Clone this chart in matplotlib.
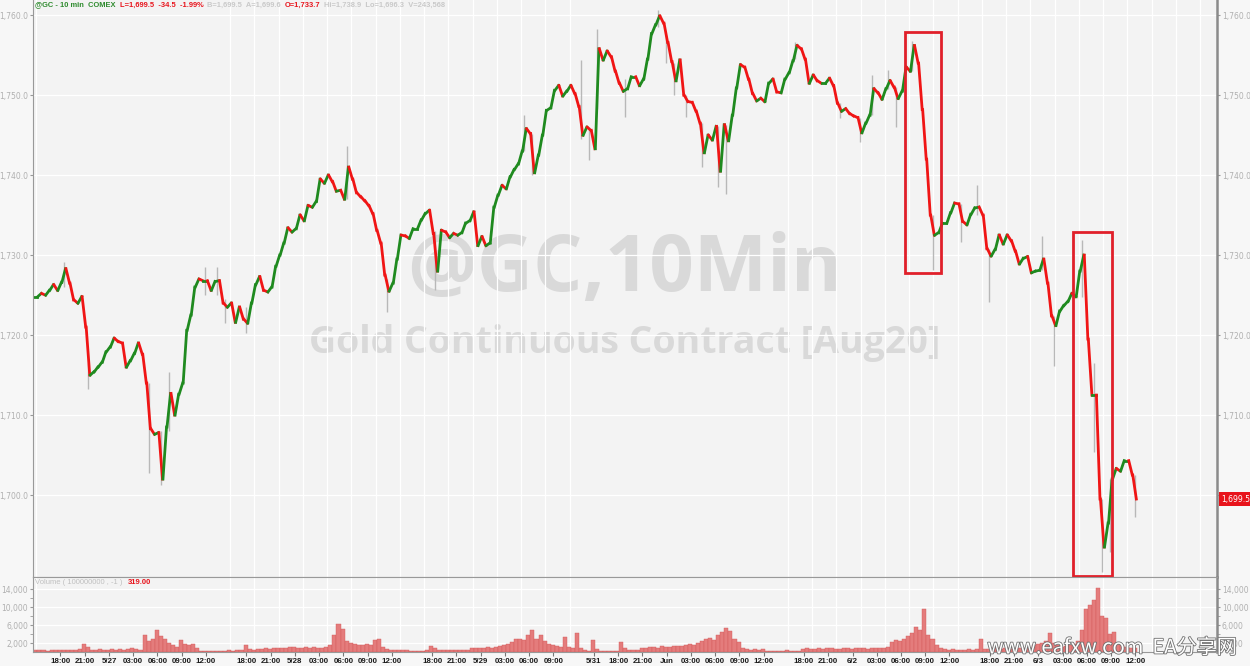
import numpy as np
import matplotlib.pyplot as plt
from matplotlib.patches import Rectangle
from matplotlib.collections import LineCollection
from matplotlib.ticker import FuncFormatter, FixedLocator
import matplotlib.patheffects as pe

# half-hour closes of @GC (10 min chart)
closes = [
    1724.8, 1725.2, 1725.0, 1725.6, 1726.3, 1725.6, 1726.6, 1728.3, 1726.5, 1724.4,
    1724.0, 1724.8, 1721.0, 1715.0, 1715.4, 1716.0, 1716.6, 1717.9, 1718.5, 1719.6,
    1719.2, 1719.0, 1716.0, 1716.8, 1717.7, 1719.0, 1717.6, 1714.0, 1708.3, 1707.6,
    1707.8, 1702.0, 1708.5, 1712.7, 1710.0, 1712.6, 1714.0, 1720.6, 1722.5, 1726.0,
    1727.0, 1726.8, 1726.8, 1725.6, 1726.7, 1726.8, 1724.0, 1723.5, 1724.0, 1721.6,
    1723.5, 1722.0, 1721.5, 1724.0, 1726.3, 1727.3, 1725.6, 1725.4, 1726.0, 1728.6,
    1730.0, 1731.5, 1733.4, 1732.9, 1733.3, 1735.0, 1734.3, 1736.2, 1736.0, 1736.7,
    1739.5, 1739.0, 1740.0, 1739.2, 1738.0, 1738.1, 1737.0, 1741.0, 1739.5, 1737.8,
    1737.3, 1736.8, 1736.2, 1735.2, 1733.1, 1731.5, 1727.5, 1725.5, 1726.5, 1729.5,
    1732.5, 1732.4, 1732.1, 1733.3, 1733.3, 1734.4, 1735.2, 1735.6, 1732.7, 1728.0,
    1733.1, 1732.9, 1732.2, 1732.7, 1732.5, 1732.8, 1734.0, 1734.3, 1735.4, 1731.2,
    1732.3, 1731.2, 1731.5, 1736.0, 1737.5, 1738.7, 1738.3, 1739.8, 1740.7, 1741.4,
    1743.0, 1745.8, 1745.2, 1740.3, 1742.5, 1745.0, 1748.1, 1748.4, 1750.6, 1751.2,
    1749.9, 1750.5, 1751.2, 1750.2, 1748.6, 1745.0, 1746.0, 1745.6, 1743.3, 1755.8,
    1754.4, 1755.5, 1754.8, 1753.0, 1751.5, 1750.5, 1750.8, 1752.3, 1752.3, 1751.2,
    1752.0, 1754.5, 1757.7, 1758.8, 1759.9, 1759.0, 1756.6, 1754.2, 1751.8, 1754.4,
    1750.0, 1749.2, 1749.1, 1748.0, 1746.5, 1742.8, 1745.0, 1744.4, 1746.1, 1740.5,
    1746.3, 1744.3, 1747.5, 1750.9, 1753.8, 1753.5, 1752.0, 1750.2, 1749.3, 1749.6,
    1749.2, 1751.5, 1752.0, 1750.4, 1750.3, 1752.0, 1752.8, 1754.3, 1756.2, 1755.8,
    1754.5, 1751.5, 1752.5, 1751.8, 1751.5, 1751.5, 1752.1, 1751.2, 1749.0, 1748.0,
    1748.3, 1747.7, 1747.4, 1747.2, 1745.3, 1746.5, 1747.5, 1750.8, 1750.3, 1749.5,
    1750.8, 1751.8, 1751.0, 1749.6, 1750.5, 1753.5, 1753.0, 1756.2, 1754.0, 1748.2,
    1742.0, 1735.0, 1732.5, 1732.8, 1734.0, 1734.0, 1735.3, 1736.5, 1736.4, 1734.2,
    1733.8, 1735.1, 1735.9, 1736.0, 1735.0, 1730.8, 1729.9, 1730.7, 1732.5, 1731.4,
    1732.5, 1731.8, 1730.5, 1728.9, 1729.6, 1729.8, 1727.8, 1728.0, 1728.1, 1729.5,
    1726.5, 1722.4, 1721.2, 1723.0, 1723.7, 1724.2, 1725.2, 1724.8, 1728.0, 1730.0,
    1719.5, 1712.5, 1712.5, 1699.5, 1693.5, 1696.5, 1702.0, 1703.3, 1703.0, 1704.3,
    1704.3, 1702.5, 1699.5,
]

volumes = [
    400, 350, 450, 300, 500, 400, 350, 450, 400, 500,
    450, 600, 1800, 1200, 500, 400, 600, 500, 450, 700,
    500, 600, 500, 700, 800, 600, 500, 3800, 2500, 2800,
    4800, 3500, 3000, 2000, 1500, 1200, 2600, 1800, 1500, 1800,
    800, 300, 250, 300, 200, 300, 250, 300, 350, 300,
    400, 500, 1500, 600, 500, 700, 600, 800, 700, 900,
    800, 1000, 900, 1200, 1100, 800, 1000, 1200, 900, 1100,
    1000, 1000, 1200, 1500, 3800, 6300, 5200, 2500, 2000, 1800,
    1500, 1600, 1800, 1500, 2600, 3000, 1200, 600, 500, 500,
    400, 500, 400, 200, 200, 250, 200, 500, 1300, 1000,
    400, 350, 400, 450, 400, 350, 400, 500, 800, 1000,
    1000, 900, 1200, 1000, 1200, 1300, 1500, 1800, 2200, 2800,
    3000, 2600, 3800, 5000, 3000, 3800, 2500, 1800, 1500, 1300,
    1200, 3300, 1200, 1000, 4300, 800, 400, 300, 2600, 600,
    200, 200, 250, 200, 200, 2300, 800, 400, 400, 500,
    900, 1000, 1100, 1200, 1000, 1300, 1100, 1200, 1300, 1400,
    1300, 1500, 1700, 1600, 2000, 2400, 2800, 3200, 2600, 3800,
    4500, 5400, 4600, 3000, 2200, 1000, 600, 500, 600, 500,
    600, 300, 300, 250, 300, 300, 350, 300, 250, 300,
    700, 800, 700, 600, 800, 700, 900, 800, 700, 600,
    800, 900, 700, 800, 900, 800, 700, 1000, 900, 800,
    900, 1200, 2200, 2600, 2500, 3000, 3500, 4200, 5500, 4800,
    9500, 3800, 2800, 1500, 800, 600, 500, 600, 500, 400,
    500, 600, 500, 700, 2800, 600, 700, 800, 900, 700,
    800, 900, 700, 800, 900, 1000, 1000, 1500, 1800, 2000,
    2500, 4200, 2000, 1500, 1200, 1300, 1500, 1800, 2500, 5000,
    9500, 10500, 11500, 14300, 8000, 7500, 4000, 4500, 1800, 1500,
    1200, 1000, 800,
]

# notable wicks: bar index -> (low, high)
wicks = {
    7: (1726.0, 1729.2), 13: (1713.3, 1716.5), 28: (1702.7, 1714.0),
    31: (1701.3, 1708.0), 33: (1708.0, 1715.4), 42: (1725.0, 1728.5),
    45: (1725.0, 1728.5), 47: (1721.5, 1724.5), 52: (1720.2, 1723.5),
    77: (1737.0, 1743.7), 87: (1722.9, 1727.0), 99: (1725.6, 1733.0),
    121: (1743.0, 1747.5), 123: (1740.0, 1745.2), 135: (1744.5, 1754.4),
    137: (1741.9, 1746.0), 139: (1748.3, 1758.3), 146: (1747.3, 1752.0),
    154: (1758.5, 1760.6), 156: (1754.0, 1757.5), 158: (1750.0, 1754.0),
    161: (1747.3, 1750.0), 165: (1741.0, 1746.5), 169: (1738.5, 1746.1),
    171: (1737.7, 1746.3), 188: (1754.5, 1756.7), 199: (1747.1, 1749.0),
    204: (1744.2, 1747.2), 207: (1747.5, 1752.5), 211: (1750.8, 1753.1),
    213: (1746.0, 1751.0), 217: (1753.0, 1756.8), 222: (1728.1, 1735.0),
    229: (1731.7, 1736.4), 233: (1735.0, 1738.8), 236: (1724.1, 1730.8),
    249: (1728.1, 1732.4), 252: (1716.1, 1722.4), 259: (1724.8, 1731.9),
    262: (1705.4, 1716.5), 264: (1690.4, 1699.5), 266: (1692.9, 1702.0),
    272: (1697.3, 1702.5),
}

# time axis labels, hours after the first 18:00 (trading hours only)
tick_labels = ['18:00', '21:00', '5/27', '03:00', '06:00', '09:00', '12:00',
               '18:00', '21:00', '5/28', '03:00', '06:00', '09:00', '12:00',
               '18:00', '21:00', '5/29', '03:00', '06:00', '09:00', '5/31',
               '18:00', '21:00', 'Jun', '03:00', '06:00', '09:00', '12:00',
               '18:00', '21:00', '6/2', '03:00', '06:00', '09:00', '12:00',
               '18:00', '21:00', '6/3', '03:00', '06:00', '09:00', '12:00']
tick_hours = [0, 3, 6, 9, 12, 15, 18,
              23, 26, 29, 32, 35, 38, 41,
              46, 49, 52, 55, 58, 61, 66,
              69, 72, 75, 78, 81, 84, 87,
              92, 95, 98, 101, 104, 107, 110,
              115, 118, 121, 124, 127, 130, 133]
first_1800 = 3.1  # hours from the first bar to the first 18:00

# highlighted sell-offs: (start hour, end hour, low, high)
boxes = [(107.65, 112.1, 1727.75, 1757.9), (128.4, 133.2, 1689.9, 1732.9)]

last_price = 1699.5
header = [('@GC - 10 min  COMEX', '#2e8b2e'),
          ('L=1,699.5  -34.5  -1.99%', '#e8141c'),
          ('B=1,699.5  A=1,699.6', '#c9c9c9'),
          ('O=1,733.7', '#e8141c'),
          ('Hi=1,738.9  Lo=1,696.3  V=243,568', '#c9c9c9')]

GREEN = '#1f8a1f'
RED = '#f01515'
W, H = 1250, 666

closes = np.array(closes)
opens = np.r_[closes[0], closes[:-1]]
x = np.arange(len(closes)) * 0.5

fig = plt.figure(figsize=(W / 100, H / 100), dpi=100, facecolor='#f7f7f7')
ax = fig.add_axes([33 / W, 89 / H, 1184 / W, 577 / H])
axv = fig.add_axes([33 / W, 14 / H, 1184 / W, 75 / H], sharex=ax)

for a in (ax, axv):
    a.set_facecolor('#f3f3f3')
    a.spines['top'].set_visible(False)
    a.spines['left'].set_color('#999999')
    a.spines['right'].set_color('#8a8a8a')
    a.spines['right'].set_linewidth(1.8)
    a.spines['bottom'].set_color('#999999')
    a.set_axisbelow(True)
    a.grid(True, which='minor', axis='x', color='white', lw=0.9)
    a.tick_params(axis='y', which='both', left=True, right=True, labelleft=True,
                  labelright=True, direction='out', length=2.5, pad=1,
                  labelsize=5.5, labelcolor='#b0b0b0', color='#999999')
axv.spines['top'].set_visible(True)
axv.spines['top'].set_color('#999999')

# candles, drawn as short strokes from open to close so the series reads as one line
for i, (wl, wh) in wicks.items():
    ax.vlines(x[i], wl, wh, color='#b8b8b8', lw=1.0, zorder=1)
segs = [[(xi - 0.22, o), (xi + 0.22, c)] for xi, o, c in zip(x, opens, closes)]
colors = [GREEN if c >= o else RED for o, c in zip(opens, closes)]
ax.add_collection(LineCollection(segs, colors=colors, linewidths=2.0,
                                 capstyle='projecting', zorder=2))

ax.set_ylim(1689.75, 1761.9)
ax.set_xlim(-0.3, 146.2)
ax.yaxis.set_major_locator(FixedLocator(np.arange(1700, 1761, 10)))
ax.yaxis.set_major_formatter(FuncFormatter(lambda v, p: f'{v:,.1f}'))
ax.grid(True, which='major', axis='y', color='white', lw=0.9)
ax.tick_params(axis='x', which='both', bottom=False, labelbottom=False)

# watermark titles
ax.text(0.5, 0.532, '@GC,10Min', transform=ax.transAxes, ha='center', va='center',
        fontsize=56, fontweight='bold', family='Open Sans', color='#d9d9d9', zorder=0)
ax.text(0.5, 0.405, 'Gold Continuous Contract [Aug20]', transform=ax.transAxes,
        ha='center', va='center', fontsize=27, fontweight='bold', family='Open Sans',
        color='#d9d9d9', zorder=0)

for x0, x1, y0, y1 in boxes:
    ax.add_patch(Rectangle((x0, y0), x1 - x0, y1 - y0, fill=False,
                           edgecolor='#e0202a', lw=2, zorder=5, clip_on=False))

ax.annotate(f'{last_price:,.1f}', xy=(1, last_price), xycoords=('axes fraction', 'data'),
            xytext=(3, 0), textcoords='offset points', ha='left', va='center',
            fontsize=5.5, color='white', annotation_clip=False, zorder=6,
            bbox=dict(boxstyle='square,pad=0.3', fc='#e8141c', ec='none'))

# volume
axv.bar(x, volumes, width=0.5, color='#e47c7c', edgecolor='#d45a5a', linewidth=0.3)
axv.set_ylim(0, 16700)
axv.yaxis.set_major_locator(FixedLocator([2000, 6000, 10000, 14000]))
axv.yaxis.set_minor_locator(FixedLocator([4000, 8000, 12000]))
axv.yaxis.set_major_formatter(FuncFormatter(lambda v, p: f'{v:,.0f}'))
axv.grid(True, which='major', axis='y', color='white', lw=0.9)

tick_pos = [first_1800 + h for h in tick_hours]
axv.xaxis.set_major_locator(FixedLocator(tick_pos))
axv.set_xticklabels(tick_labels)
axv.xaxis.set_minor_locator(FixedLocator(np.arange(first_1800 - 3, 146, 3)))
axv.tick_params(axis='x', which='major', length=3, pad=1, labelsize=5.7,
                labelcolor='#1a1a1a', color='#777777')
axv.tick_params(axis='x', which='minor', length=0)
for lab in axv.get_xticklabels():
    lab.set_fontweight('bold')
    lab.set_family('Liberation Sans')

# header texts
renderer = fig.canvas.get_renderer()
xpos = 35
for s, c in header:
    t = fig.text(xpos / W, 1 - 5 / H, s, color=c, fontsize=5.4, fontweight='bold',
                 family='Liberation Sans', ha='left', va='center')
    xpos = t.get_window_extent(renderer).x1 + 4

xpos = 35
for s, c in [('Volume ( 100000000 , -1 )', '#c0c0c0'), ('319.00', '#e8141c')]:
    t = fig.text(xpos / W, 1 - 582 / H, s, color=c, fontsize=5.5,
                 fontweight='bold' if c != '#c0c0c0' else 'normal',
                 family='Liberation Sans', ha='left', va='center')
    xpos = t.get_window_extent(renderer).x1 + 5

fig.text(1112 / W, 1 - 648 / H, 'www.eafxw.com  EA分享网', fontsize=14.5,
         family=['Noto Sans CJK SC', 'DejaVu Sans'], color='white', ha='center',
         va='center', path_effects=[pe.withStroke(linewidth=1.2, foreground='#707070')])

fig.savefig('out.png', dpi=100, facecolor=fig.get_facecolor())
